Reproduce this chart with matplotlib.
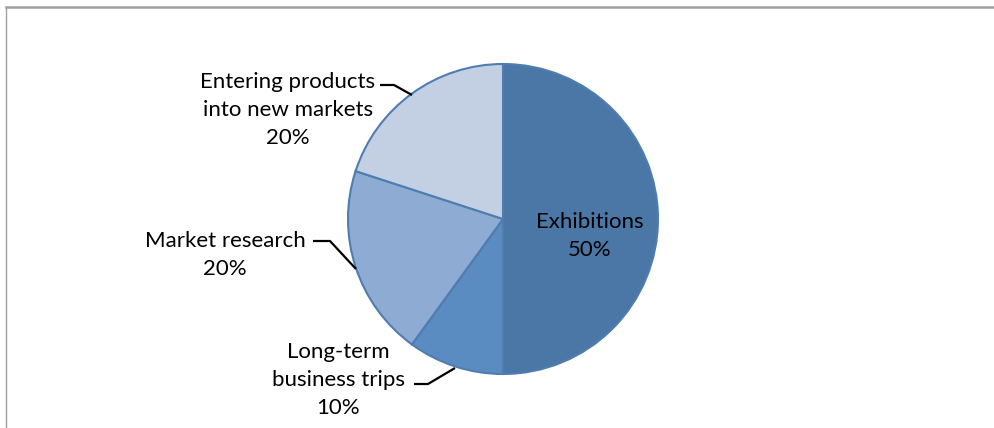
import matplotlib.pyplot as plt
from matplotlib.lines import Line2D

# Share of activities
labels = ["Exhibitions", "Long-term\nbusiness trips", "Market research", "Entering products\ninto new markets"]
shares = [50, 10, 20, 20]
colors = ["#4a77a6", "#5a8bc1", "#8eabd3", "#c3d0e3"]

W, H = 994, 428
fig = plt.figure(figsize=(W / 100, H / 100), dpi=100)
ax = fig.add_axes([0, 0, 1, 1])

cx, cy, r = 503, H - 219, 155
wedges, _ = ax.pie(shares, colors=colors, startangle=90, counterclock=False,
                   center=(cx, cy), radius=r, frame=True,
                   wedgeprops=dict(edgecolor="#4f7db0", linewidth=1.5))
ax.set_xlim(0, W)
ax.set_ylim(0, H)
ax.set_aspect("equal")
ax.axis("off")

font = dict(family=["Lato", "DejaVu Sans"], fontsize=16, color="black",
            ha="center", va="center", linespacing=1.52)

# text positions (pixels from top-left) and leader lines
ax.text(590, H - 236, f"{labels[0]}\n{shares[0]}%", **font)
ax.text(338, H - 380, f"{labels[1]}\n{shares[1]}%", **font)
ax.text(225, H - 255, f"{labels[2]}\n{shares[2]}%", **font)
ax.text(288, H - 110, f"{labels[3]}\n{shares[3]}%", **font)

leaders = [
    [(414, 384), (428, 384), (455, 368)],
    [(313, 241), (330, 241), (356, 269)],
    [(380, 85), (394, 85), (412, 95)],
]
for pts in leaders:
    xs = [p[0] for p in pts]
    ys = [H - p[1] for p in pts]
    ax.plot(xs, ys, color="black", lw=1.6, solid_capstyle="butt")

# outer frame, only the top and left edges are in view
fig.add_artist(Line2D([5.5 / W, 1], [1 - 7 / H, 1 - 7 / H], color="#a0a0a0", lw=1.8,
                      transform=fig.transFigure))
fig.add_artist(Line2D([5.5 / W, 5.5 / W], [0, 1 - 7 / H], color="#a0a0a0", lw=1.0,
                      transform=fig.transFigure))

fig.savefig("out.png", dpi=100)
